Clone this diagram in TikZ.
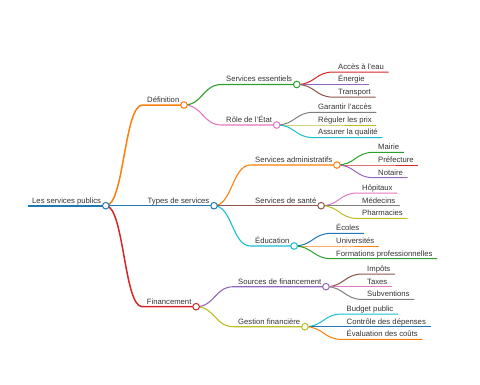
\documentclass[tikz,border=0pt]{standalone}
\usepackage{fontspec}
\setmainfont{Liberation Sans}
\usetikzlibrary{calc}
\definecolor{txt}{HTML}{333333}
\definecolor{cA}{HTML}{1F77B4}
\definecolor{cB}{HTML}{FF7F0E}
\definecolor{cC}{HTML}{2CA02C}
\definecolor{cD}{HTML}{D62728}
\definecolor{cE}{HTML}{9467BD}
\definecolor{cF}{HTML}{8C564B}
\definecolor{cG}{HTML}{E377C2}
\definecolor{cH}{HTML}{7F7F7F}
\definecolor{cI}{HTML}{BCBD22}
\definecolor{cJ}{HTML}{17BECF}
\tikzset{
  mm/.style={anchor=south west, inner xsep=4.5pt, inner ysep=0.9pt,
    text height=5.6pt, text depth=1.6pt, text=txt,
    font=\fontsize{7.7}{9}\selectfont},
  lk/.style={to path={let \p1=(\tikztostart), \p2=(\tikztotarget) in
    .. controls ({(\x1+\x2)/2},\y1) and ({(\x1+\x2)/2},\y2) .. (\tikztotarget)}},
  wa/.style={line width=1.8pt},
  wb/.style={line width=1.5pt},
  wc/.style={line width=1.1pt},
  wd/.style={line width=1pt},
  dotc/.style={fill=white, line width=1pt},
}
\begin{document}
\begin{tikzpicture}[x=1pt,y=-1pt]
\useasboundingbox (0,0) rectangle (480,384);
% root
\node[mm] (root) at (27.5,205.7) {Les services publics};
% level 1
\node[mm] (def) at (142.5,105) {Définition};
\node[mm] (typ) at (143,205.7) {Types de services};
\node[mm] (fin) at (142.2,306.7) {Financement};
% level 2
\node[mm] (ess) at (221.5,84.5) {Services essentiels};
\node[mm] (role) at (221.5,125) {Rôle de l'État};
\node[mm] (adm) at (250.5,165) {Services administratifs};
\node[mm] (san) at (250.5,205.7) {Services de santé};
\node[mm] (edu) at (250.5,246) {Éducation};
\node[mm] (src) at (233.5,286.7) {Sources de financement};
\node[mm] (ges) at (233.5,326.7) {Gestion financière};
% leaves
\node[mm] (acc) at (333.5,72) {Accès à l'eau};
\node[mm] (ene) at (333.5,84.5) {Énergie};
\node[mm] (tra) at (333.5,97.2) {Transport};
\node[mm] (gar) at (313.5,112.3) {Garantir l'accès};
\node[mm] (reg) at (313.5,125) {Réguler les prix};
\node[mm] (ass) at (313.5,137.6) {Assurer la qualité};
\node[mm] (mai) at (373.5,152.3) {Mairie};
\node[mm] (pre) at (373.5,165) {Préfecture};
\node[mm] (not) at (373.5,177.7) {Notaire};
\node[mm] (hop) at (357.5,193) {Hôpitaux};
\node[mm] (med) at (357.5,205.7) {Médecins};
\node[mm] (pha) at (357.5,218.4) {Pharmacies};
\node[mm] (eco) at (331.5,233.3) {Écoles};
\node[mm] (uni) at (331.5,246) {Universités};
\node[mm] (for) at (331.5,258.7) {Formations professionnelles};
\node[mm] (imp) at (362.5,274) {Impôts};
\node[mm] (tax) at (362.5,286.7) {Taxes};
\node[mm] (sub) at (362.5,299.4) {Subventions};
\node[mm] (bud) at (342,314) {Budget public};
\node[mm] (con) at (342,326.7) {Contrôle des dépenses};
\node[mm] (eva) at (342,339.4) {Évaluation des coûts};
% underline of root
\draw[wa,cA] (root.south west) -- (root.south east);
% level 1 links
\draw[wb,cB,lk] (root.south east) to (def.south west) -- (def.south east);
\draw[wb,cA,lk] (root.south east) to (typ.south west) -- (typ.south east);
\draw[wb,cD,lk] (root.south east) to (fin.south west) -- (fin.south east);
% level 2 links
\draw[wc,cC,lk] (def.south east) to (ess.south west) -- (ess.south east);
\draw[wc,cG,lk] (def.south east) to (role.south west) -- (role.south east);
\draw[wc,cB,lk] (typ.south east) to (adm.south west) -- (adm.south east);
\draw[wc,cF,lk] (typ.south east) to (san.south west) -- (san.south east);
\draw[wc,cJ,lk] (typ.south east) to (edu.south west) -- (edu.south east);
\draw[wc,cE,lk] (fin.south east) to (src.south west) -- (src.south east);
\draw[wc,cI,lk] (fin.south east) to (ges.south west) -- (ges.south east);
% leaves
\draw[wd,cD,lk] (ess.south east) to (acc.south west) -- (acc.south east);
\draw[wd,cE,lk] (ess.south east) to (ene.south west) -- (ene.south east);
\draw[wd,cF,lk] (ess.south east) to (tra.south west) -- (tra.south east);
\draw[wd,cH,lk] (role.south east) to (gar.south west) -- (gar.south east);
\draw[wd,cI,lk] (role.south east) to (reg.south west) -- (reg.south east);
\draw[wd,cJ,lk] (role.south east) to (ass.south west) -- (ass.south east);
\draw[wd,cC,lk] (adm.south east) to (mai.south west) -- (mai.south east);
\draw[wd,cD,lk] (adm.south east) to (pre.south west) -- (pre.south east);
\draw[wd,cE,lk] (adm.south east) to (not.south west) -- (not.south east);
\draw[wd,cG,lk] (san.south east) to (hop.south west) -- (hop.south east);
\draw[wd,cH,lk] (san.south east) to (med.south west) -- (med.south east);
\draw[wd,cI,lk] (san.south east) to (pha.south west) -- (pha.south east);
\draw[wd,cA,lk] (edu.south east) to (eco.south west) -- (eco.south east);
\draw[wd,cB,lk] (edu.south east) to (uni.south west) -- (uni.south east);
\draw[wd,cC,lk] (edu.south east) to (for.south west) -- (for.south east);
\draw[wd,cF,lk] (src.south east) to (imp.south west) -- (imp.south east);
\draw[wd,cG,lk] (src.south east) to (tax.south west) -- (tax.south east);
\draw[wd,cH,lk] (src.south east) to (sub.south west) -- (sub.south east);
\draw[wd,cJ,lk] (ges.south east) to (bud.south west) -- (bud.south east);
\draw[wd,cA,lk] (ges.south east) to (con.south west) -- (con.south east);
\draw[wd,cB,lk] (ges.south east) to (eva.south west) -- (eva.south east);
% circles
\draw[dotc,draw=cA] (root.south east) circle (3.3);
\draw[dotc,draw=cB] (def.south east) circle (3.3);
\draw[dotc,draw=cA] (typ.south east) circle (3.3);
\draw[dotc,draw=cD] (fin.south east) circle (3.3);
\draw[dotc,draw=cC] (ess.south east) circle (3.3);
\draw[dotc,draw=cG] (role.south east) circle (3.3);
\draw[dotc,draw=cB] (adm.south east) circle (3.3);
\draw[dotc,draw=cF] (san.south east) circle (3.3);
\draw[dotc,draw=cJ] (edu.south east) circle (3.3);
\draw[dotc,draw=cE] (src.south east) circle (3.3);
\draw[dotc,draw=cI] (ges.south east) circle (3.3);
\end{tikzpicture}
\end{document}
